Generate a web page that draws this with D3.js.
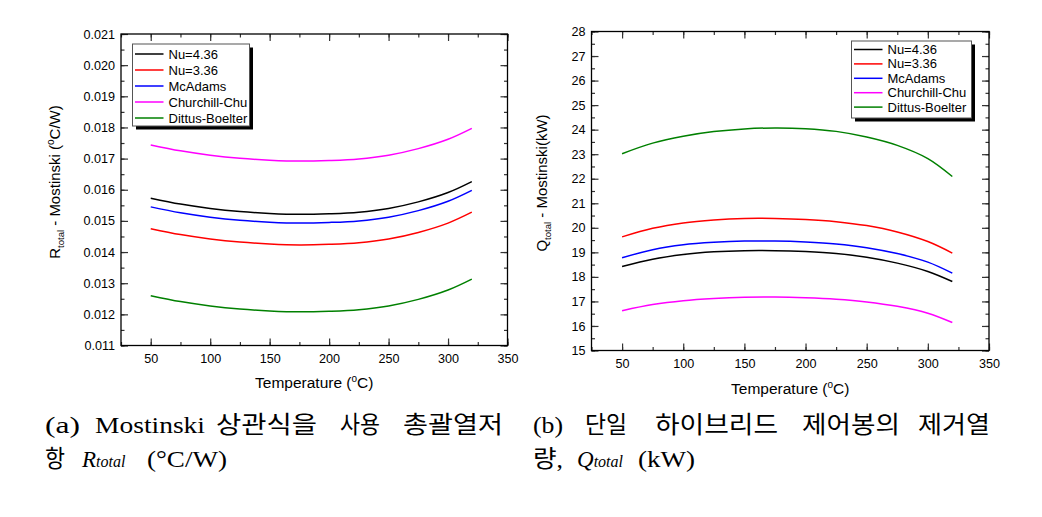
<!DOCTYPE html>
<html><head><meta charset="utf-8">
<script src="https://cdn.jsdelivr.net/npm/d3@7"></script>
<style>
body{margin:0;background:#fff}
svg text{font-family:"Liberation Sans",Arial,sans-serif;fill:#000}
.cap text{font-family:"Liberation Serif","Noto Sans CJK KR",serif;font-weight:normal}
</style>
</head><body>
<svg id="c" width="1042" height="517"></svg>
<script>
// ---------- data ----------
const temps = [50, 75, 100, 125, 150, 175, 200, 225, 250, 275, 300, 320];
const seriesNames = ["Nu=4.36", "Nu=3.36", "McAdams", "Churchill-Chu", "Dittus-Boelter"];
const seriesColors = ["#000000", "#ff0000", "#0000ff", "#ff00ff", "#008000"];

// (a) R_total (°C/W)
const rNu436   = [0.01573, 0.01554, 0.01540, 0.01530, 0.01524, 0.01521, 0.01523, 0.01528, 0.01540, 0.01561, 0.01591, 0.01626];
const rNu336   = [0.01475, 0.01456, 0.01442, 0.01432, 0.01426, 0.01423, 0.01425, 0.01430, 0.01442, 0.01463, 0.01493, 0.01528];
const rMcAdams = [0.01545, 0.01526, 0.01512, 0.01502, 0.01496, 0.01493, 0.01495, 0.01500, 0.01512, 0.01533, 0.01563, 0.01598];
const rChurch  = [0.01744, 0.01725, 0.01711, 0.01701, 0.01695, 0.01692, 0.01694, 0.01699, 0.01711, 0.01732, 0.01762, 0.01797];
const rDittus  = [0.01260, 0.01241, 0.01227, 0.01217, 0.01211, 0.01208, 0.01210, 0.01215, 0.01227, 0.01248, 0.01278, 0.01313];

// (b) Q_total (kW)
const qNu436   = [18.42, 18.72, 18.91, 19.02, 19.07, 19.07, 19.03, 18.95, 18.80, 18.56, 18.22, 17.81];
const qNu336   = [19.63, 19.98, 20.20, 20.32, 20.38, 20.38, 20.34, 20.25, 20.09, 19.83, 19.44, 18.97];
const qMcAdams = [18.78, 19.11, 19.31, 19.41, 19.46, 19.46, 19.42, 19.34, 19.19, 18.95, 18.60, 18.15];
const qChurch  = [16.62, 16.87, 17.03, 17.12, 17.17, 17.18, 17.15, 17.09, 16.98, 16.80, 16.52, 16.14];
const qDittus  = [23.02, 23.45, 23.73, 23.92, 24.03, 24.07, 24.04, 23.93, 23.70, 23.36, 22.82, 22.09];

const xTicks = [50, 100, 150, 200, 250, 300, 350];
const rTicks = [0.011, 0.012, 0.013, 0.014, 0.015, 0.016, 0.017, 0.018, 0.019, 0.020, 0.021];
const qTicks = [15, 16, 17, 18, 19, 20, 21, 22, 23, 24, 25, 26, 27, 28];

const svg = d3.select("#c");

function panel(o) {
  const g = svg.append("g");
  const x = d3.scaleLinear().domain([25, 350]).range([o.l, o.r]);
  const y = d3.scaleLinear().domain(o.yDom).range([o.b, o.t]);
  const major = 7, minor = 3.5;
  const xMinor = d3.range(25, 351, 25);
  const yMinor = d3.range(0, Math.round((o.yDom[1]-o.yDom[0])/o.yStepMinor)+1).map(i => o.yDom[0] + i*o.yStepMinor);

  function ax(gen, tr, vals, size, fmt) {
    const a = gen.tickValues(vals).tickSize(-size).tickSizeOuter(0).tickPadding(6);
    a.tickFormat(fmt || "");
    const s = g.append("g").attr("transform", tr).call(a);
    s.select(".domain").remove();
    s.selectAll("line").attr("stroke", "#333").attr("stroke-width", 1.2);
    s.selectAll("text").attr("font-size", "12.6px").attr("fill", "#000");
    return s;
  }
  ax(d3.axisBottom(x), `translate(0,${o.b})`, xMinor, minor);
  ax(d3.axisBottom(x), `translate(0,${o.b})`, xTicks, major, d3.format("d")).selectAll("text").attr("dy", "0.9em");
  ax(d3.axisTop(x), `translate(0,${o.t})`, xMinor, minor);
  ax(d3.axisTop(x), `translate(0,${o.t})`, xTicks, major);
  ax(d3.axisLeft(y), `translate(${o.l},0)`, yMinor, minor);
  ax(d3.axisLeft(y), `translate(${o.l},0)`, o.yTicks, major, o.fmt);
  ax(d3.axisRight(y), `translate(${o.r},0)`, yMinor, minor);
  ax(d3.axisRight(y), `translate(${o.r},0)`, o.yTicks, major);

  g.append("rect").attr("x", o.l).attr("y", o.t).attr("width", o.r-o.l).attr("height", o.b-o.t)
    .attr("fill", "none").attr("stroke", "#000").attr("stroke-width", 1.3);

  const line = d3.line().x((d,i) => x(temps[i])).y(d => y(d)).curve(d3.curveCatmullRom.alpha(0.5));
  o.series.forEach((s, k) => {
    g.append("path").attr("d", line(s)).attr("fill", "none")
      .attr("stroke", seriesColors[k]).attr("stroke-width", 1.5);
  });

  const L = o.leg;
  g.append("rect").attr("x", L.x+3.5).attr("y", L.y+3.5).attr("width", L.w).attr("height", L.h).attr("fill", "#000");
  g.append("rect").attr("x", L.x).attr("y", L.y).attr("width", L.w).attr("height", L.h)
    .attr("fill", "#fff").attr("stroke", "#555").attr("stroke-width", 1);
  seriesNames.forEach((n, k) => {
    const yy = L.y + L.first + k*L.step;
    g.append("line").attr("x1", L.x+2.5).attr("x2", L.x+31).attr("y1", yy).attr("y2", yy)
      .attr("stroke", seriesColors[k]).attr("stroke-width", 1.5);
    g.append("text").attr("x", L.x+36).attr("y", yy).attr("dy", "0.35em")
      .attr("font-size", "13px").text(n);
  });

  const xt = g.append("text").attr("x", (o.l+o.r)/2).attr("y", o.xTitleY).attr("text-anchor", "middle").attr("font-size", "15.5px");
  xt.append("tspan").text("Temperature (");
  xt.append("tspan").attr("font-size", "10px").attr("dy", "-6").text("o");
  xt.append("tspan").attr("dy", "6").text("C)");

  const yt = g.append("text").attr("transform", `translate(${o.yTitleX},${o.yTitleC}) rotate(-90)`)
    .attr("text-anchor", "middle").attr("font-size", "15px");
  o.yTitle(yt);
}

panel({
  l: 121, r: 507.5, t: 34, b: 345.5,
  yDom: [0.011, 0.021], yTicks: rTicks, yStepMinor: 0.0005, fmt: d3.format(".3f"),
  series: [rNu436, rNu336, rMcAdams, rChurch, rDittus],
  leg: {x: 132.5, y: 44, w: 117, h: 82, first: 10, step: 16},
  xTitleY: 388, yTitleX: 60, yTitleC: 182,
  yTitle: t => {
    t.append("tspan").text("R");
    t.append("tspan").attr("font-size", "9.5px").attr("dy", "4").text("total");
    t.append("tspan").attr("dy", "-4").text(" - Mostinski (");
    t.append("tspan").attr("font-size", "10px").attr("dy", "-6").text("o");
    t.append("tspan").attr("dy", "6").text("C/W)");
  }
});

panel({
  l: 591.5, r: 989, t: 31.5, b: 350.5,
  yDom: [15, 28], yTicks: qTicks, yStepMinor: 0.5, fmt: d3.format("d"),
  series: [qNu436, qNu336, qMcAdams, qChurch, qDittus],
  leg: {x: 851.5, y: 41, w: 120, h: 77, first: 8.5, step: 14.4},
  xTitleY: 394, yTitleX: 547, yTitleC: 183,
  yTitle: t => {
    t.append("tspan").text("Q");
    t.append("tspan").attr("font-size", "9.5px").attr("dy", "4").text("total");
    t.append("tspan").attr("dy", "-4").text(" - Mostinski(kW)");
  }
});

// ---------- captions ----------
const cap = svg.append("g").attr("class", "cap");
function word(x0, x1, y, s, korean) {
  const t = cap.append("text").attr("x", x0).attr("y", y)
    .attr("font-size", korean ? "24px" : "24px").attr("fill", "#333")
    .attr("textLength", x1 - x0).attr("lengthAdjust", "spacingAndGlyphs");
  t.text(s);
  return t;
}
const y1 = 433, y2 = 467;
word(45, 80, y1, "(a)");
word(95, 205, y1, "Mostinski");
word(216, 317, y1, "상관식을", true);
word(340, 380, y1, "사용", true);
word(403, 503, y1, "총괄열저", true);
word(45, 65, y2, "항", true);
{
  const t = cap.append("text").attr("x", 82).attr("y", y2).attr("font-size", "23px").attr("fill", "#333").attr("font-style", "italic");
  t.append("tspan").text("R");
  t.append("tspan").attr("font-size", "16px").text("total");
}
word(147, 227, y2, "(°C/W)");

word(533, 563, y1, "(b)");
word(585, 627, y1, "단일", true);
word(655, 778, y1, "하이브리드", true);
word(802, 900, y1, "제어봉의", true);
word(918, 990, y1, "제거열", true);
word(533, 563, y2, "량,", true);
{
  const t = cap.append("text").attr("x", 577).attr("y", y2).attr("font-size", "23px").attr("fill", "#333").attr("font-style", "italic");
  t.append("tspan").text("Q");
  t.append("tspan").attr("font-size", "16px").text("total");
}
word(638, 695, y2, "(kW)");
</script>
</body></html>
